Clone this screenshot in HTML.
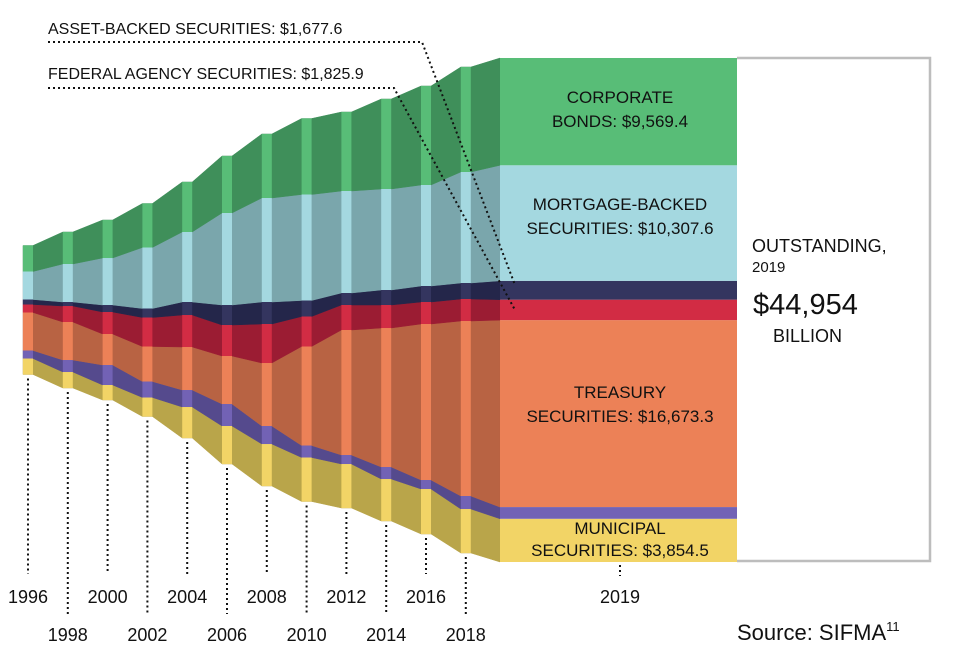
<!DOCTYPE html>
<html><head><meta charset="utf-8">
<style>
html,body{margin:0;padding:0;background:#fff;}
svg{display:block;font-family:"Liberation Sans Narrow","Liberation Sans",sans-serif;}
</style></head>
<body>
<svg id="chart" width="954" height="666" viewBox="0 0 954 666" xmlns="http://www.w3.org/2000/svg">
  <g id="areas"></g>
  <g id="stripes"></g>
  <g id="block"></g>
  <g id="axis"></g>
  <g id="annot">
    <text x="48" y="34" font-size="16" fill="#111">ASSET-BACKED SECURITIES: $1,677.6</text>
    <polyline points="48,42 422,42 515,285" fill="none" stroke="#111" stroke-width="2" stroke-dasharray="2,3"/>
    <text x="48" y="79" font-size="16" fill="#111">FEDERAL AGENCY SECURITIES: $1,825.9</text>
    <polyline points="48,88 394,88 515,310" fill="none" stroke="#111" stroke-width="2" stroke-dasharray="2,3"/>
    <g font-size="17" fill="#111" text-anchor="middle">
      <text x="620" y="103">CORPORATE</text>
      <text x="620" y="127">BONDS: $9,569.4</text>
      <text x="620" y="210">MORTGAGE-BACKED</text>
      <text x="620" y="234">SECURITIES: $10,307.6</text>
      <text x="620" y="398">TREASURY</text>
      <text x="620" y="422">SECURITIES: $16,673.3</text>
      <text x="620" y="534">MUNICIPAL</text>
      <text x="620" y="556">SECURITIES: $3,854.5</text>
    </g>
    <polyline points="737,58 930,58 930,561 737,561" fill="none" stroke="#bdbdbd" stroke-width="2.5"/>
    <text x="752" y="252" font-size="18" fill="#111">OUTSTANDING,</text>
    <text x="752" y="272" font-size="15" fill="#111">2019</text>
    <text x="753" y="314" font-size="29" fill="#111">$44,954</text>
    <text x="773" y="342" font-size="18" fill="#111">BILLION</text>
    <text x="737" y="640" font-size="22" fill="#111">Source: SIFMA<tspan font-size="13" dy="-9">11</tspan></text>
  </g>
</svg>
<script>
// Data (billions USD), bottom to top: municipal, money-market, treasury, agency, abs, mbs, corporate
const years = [1996,1998,2000,2002,2004,2006,2008,2010,2012,2014,2016,2018];
const municipal = [1427,1427,1338,1695,2765,3390,3746,3925,3925,3746,4014,3925];
const moneyMarket = [714,1070,1784,1427,1516,1962,1606,1070,803,1070,803,1160];
const treasury = [3390,3390,2765,3122,3836,4282,5620,8831,11150,12399,13915,15610];
const agency = [714,1427,1962,2587,2854,2765,3479,2676,2230,2052,1962,1962];
const assetBacked = [446,357,624,803,1160,1784,1962,1427,1070,1338,1427,1427];
const mortgageBacked = [2498,3390,4192,5441,6244,8206,9277,9455,9098,9009,9009,9901];
const corporate = [2319,2854,3390,3925,4460,5084,5709,6779,7047,8028,8831,9366];
const final2019 = [3854.5,1046,16673.3,1825.9,1677.6,10307.6,9569.4];
const layerNames = ['municipal','money-market','treasury','federal-agency','asset-backed','mortgage-backed','corporate'];
const series = [municipal,moneyMarket,treasury,agency,assetBacked,mortgageBacked,corporate];

const bright = ['#f2d466','#7262b5','#ec8157','#d22c44','#34355f','#a4d8e0','#58bd77'];
const dark = ['#b9a54a','#554a8d','#b86343','#9b1c33','#24264a','#7aa6ac','#3f8f5a'];
const NS='http://www.w3.org/2000/svg';
const CENTER=310, K=504/44954;
function xOf(y){return 28+(y-1996)*19.9;}
function yScale(v){return v*K;}
function bounds(vals){ // returns array of boundary y's bottom..top
  const tot=vals.reduce((a,b)=>a+b,0);
  let y=CENTER+yScale(tot)/2; const out=[y];
  for(const v of vals){y-=yScale(v);out.push(y);}
  return out;
}
const B=years.map((yr,i)=>bounds(series.map(s=>s[i])));
const B19=bounds(final2019);
const HW=5, BX0=500, BX1=737;
const areas=document.getElementById('areas');
for(let L=0;L<7;L++){
  let top=[],bot=[];
  years.forEach((yr,i)=>{const x=xOf(yr);
    const xl=i===0?23:x-HW;
    top.push([xl,B[i][L+1]],[x+HW,B[i][L+1]]);
    bot.push([xl,B[i][L]],[x+HW,B[i][L]]);});
  top.push([BX0,B19[L+1]]);bot.push([BX0,B19[L]]);
  const pts=top.concat(bot.reverse()).map(p=>p[0].toFixed(1)+','+p[1].toFixed(1)).join(' ');
  const pg=document.createElementNS(NS,'polygon');
  pg.setAttribute('points',pts);pg.setAttribute('fill',dark[L]);
  pg.setAttribute('stroke',dark[L]);pg.setAttribute('stroke-width','0.5');
  
  
  areas.appendChild(pg);
}
const stripes=document.getElementById('stripes');
const axis=document.getElementById('axis');
years.forEach((yr,i)=>{const x=xOf(yr);
  for(let L=0;L<7;L++){
    const r=document.createElementNS(NS,'rect');
    r.setAttribute('x',x-HW);r.setAttribute('width',HW*2);
    r.setAttribute('y',B[i][L+1]);r.setAttribute('height',Math.max(0,B[i][L]-B[i][L+1]));
    r.setAttribute('fill',bright[L]);
    
    
    stripes.appendChild(r);
  }
  const low=i%2===1;
  const ln=document.createElementNS(NS,'line');
  ln.setAttribute('x1',x);ln.setAttribute('x2',x);ln.setAttribute('y1',B[i][0]+4);ln.setAttribute('y2',low?614:574);
  ln.setAttribute('stroke','#111');ln.setAttribute('stroke-width','2');ln.setAttribute('stroke-dasharray','2,3');
  
  
  axis.appendChild(ln);
  const t=document.createElementNS(NS,'text');
  t.setAttribute('x',x);t.setAttribute('y',low?641:603);t.setAttribute('text-anchor','middle');
  t.setAttribute('font-size','18');t.setAttribute('fill','#111');t.textContent=yr;
  
  
  axis.appendChild(t);
});
const block=document.getElementById('block');
for(let L=0;L<7;L++){
  const r=document.createElementNS(NS,'rect');
  r.setAttribute('x',BX0);r.setAttribute('width',BX1-BX0);
  r.setAttribute('y',B19[L+1]);r.setAttribute('height',B19[L]-B19[L+1]);
  r.setAttribute('fill',bright[L]);
  
  
  block.appendChild(r);
}
const l19=document.createElementNS(NS,'line');
l19.setAttribute('x1',620);l19.setAttribute('x2',620);l19.setAttribute('y1',B19[0]+3);l19.setAttribute('y2',576);
l19.setAttribute('stroke','#111');l19.setAttribute('stroke-width','2');l19.setAttribute('stroke-dasharray','2,3');


axis.appendChild(l19);
const t19=document.createElementNS(NS,'text');
t19.setAttribute('x',620);t19.setAttribute('y',603);t19.setAttribute('text-anchor','middle');
t19.setAttribute('font-size','18');t19.setAttribute('fill','#111');t19.textContent='2019';


axis.appendChild(t19);
</script>
</body></html>
